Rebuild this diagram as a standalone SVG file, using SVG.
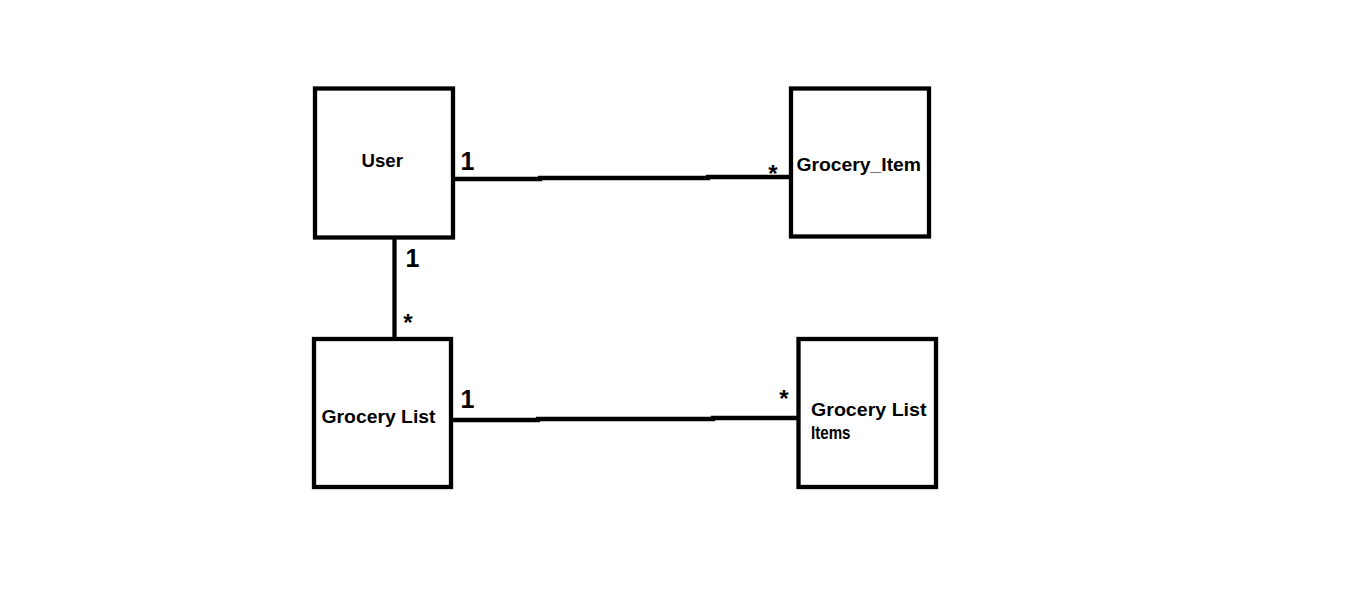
<svg xmlns="http://www.w3.org/2000/svg" width="1360" height="598" viewBox="0 0 1360 598">
<style>
.box{fill:#fff;stroke:#000;stroke-width:4.3}
.conn{fill:none;stroke:#000;stroke-width:4.3}
.lbl{font-family:"Liberation Sans",Arial,sans-serif;font-weight:bold;font-size:19px;fill:#000}
.one{font-family:"Liberation Sans",Arial,sans-serif;font-weight:bold;font-size:25px;fill:#000;text-anchor:middle}
.many{font-family:"Liberation Sans",Arial,sans-serif;font-weight:bold;font-size:24px;fill:#000;text-anchor:middle}
</style>
<rect width="1360" height="598" fill="#fff"/>
<g id="connectors">
<polyline class="conn" points="454,179 540,179 540,178 708,178 708,177 790,177"/>
<line class="conn" x1="394.5" y1="238" x2="394.5" y2="338"/>
<polyline class="conn" points="452,420 538,420 538,419 713,419 713,418 798,418"/>
</g>
<g id="user">
<rect class="box" x="315" y="88.5" width="138" height="149"/>
<text class="lbl" x="361.5" y="167" textLength="41.5" lengthAdjust="spacingAndGlyphs">User</text>
</g>
<g id="grocery_item">
<rect class="box" x="791" y="88.5" width="138" height="148"/>
<text class="lbl" x="796.5" y="171" textLength="124.5" lengthAdjust="spacingAndGlyphs">Grocery_Item</text>
</g>
<g id="grocery_list">
<rect class="box" x="314" y="339" width="137" height="148"/>
<text class="lbl" x="321.5" y="423" textLength="114" lengthAdjust="spacingAndGlyphs">Grocery List</text>
</g>
<g id="grocery_list_items">
<rect class="box" x="798.5" y="339" width="137.5" height="148"/>
<text class="lbl" x="811" y="416" textLength="115.5" lengthAdjust="spacingAndGlyphs">Grocery List</text>
<text class="lbl" x="811" y="439" textLength="39.5" lengthAdjust="spacingAndGlyphs">Items</text>
</g>
<g id="multiplicities">
<text class="one" x="467.5" y="170">1</text>
<text class="one" x="412.5" y="267">1</text>
<text class="one" x="467.5" y="408">1</text>
<text class="many" x="773" y="182">*</text>
<text class="many" x="408" y="331">*</text>
<text class="many" x="784" y="407">*</text>
</g>
</svg>
